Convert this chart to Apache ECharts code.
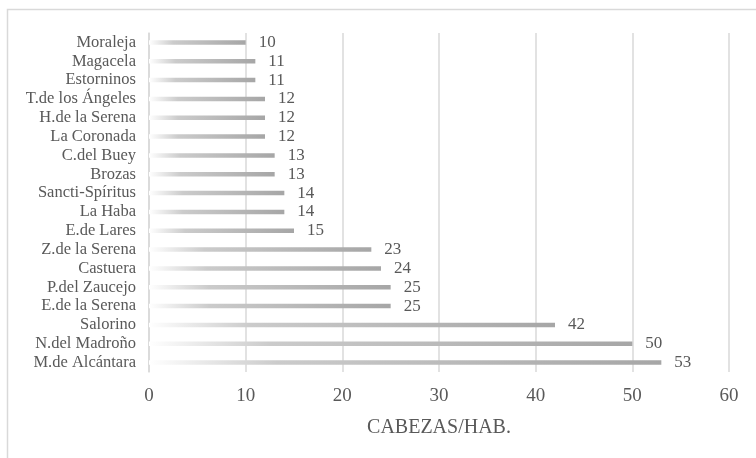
<!DOCTYPE html>
<html>
<head>
<meta charset="utf-8">
<script src="https://cdn.jsdelivr.net/npm/echarts@6/dist/echarts.min.js"></script>
<style>
  html, body { margin: 0; padding: 0; background: #fff; }
  #chart { width: 756px; height: 458px; }
</style>
</head>
<body>
<div id="chart"></div>
<script>
// Municipalities, listed top to bottom
const municipios = [
  'Moraleja', 'Magacela', 'Estorninos', 'T.de los Ángeles', 'H.de la Serena',
  'La Coronada', 'C.del Buey', 'Brozas', 'Sancti-Spíritus', 'La Haba',
  'E.de Lares', 'Z.de la Serena', 'Castuera', 'P.del Zaucejo', 'E.de la Serena',
  'Salorino', 'N.del Madroño', 'M.de Alcántara'
];
// Head of livestock per inhabitant
const cabezasHab = [10, 11, 11, 12, 12, 12, 13, 13, 14, 14, 15, 23, 24, 25, 25, 42, 50, 53];
const ejeTicks = [0, 10, 20, 30, 40, 50, 60];

const serif = '"Liberation Serif", "DejaVu Serif", serif';
const chart = echarts.init(document.getElementById('chart'));

chart.setOption({
  animation: false,
  graphic: [{
    type: 'rect',
    shape: { x: 7.5, y: 9.5, width: 800, height: 500 },
    style: { fill: 'none', stroke: '#d9d9d9', lineWidth: 1.5 },
    silent: true
  }],
  grid: { left: 149, right: 27, top: 33, bottom: 86, containLabel: false },
  xAxis: {
    type: 'value',
    min: ejeTicks[0],
    max: ejeTicks[ejeTicks.length - 1],
    interval: 10,
    name: 'CABEZAS/HAB.',
    nameLocation: 'middle',
    nameGap: 46,
    nameTextStyle: { fontFamily: serif, fontSize: 20, color: '#595959' },
    axisLine: { show: false },
    axisTick: { show: false },
    axisLabel: { fontFamily: serif, fontSize: 19, color: '#595959', margin: 15 },
    splitLine: { lineStyle: { color: '#d9d9d9', width: 1.5 } }
  },
  yAxis: {
    type: 'category',
    inverse: true,
    data: municipios,
    axisLine: { show: true, lineStyle: { color: '#d9d9d9', width: 1.5 } },
    axisTick: { show: false },
    axisLabel: { interval: 0, fontFamily: serif, fontSize: 16.5, color: '#595959', margin: 13 }
  },
  series: [{
    type: 'bar',
    data: cabezasHab,
    barWidth: 4.5,
    itemStyle: {
      color: new echarts.graphic.LinearGradient(0, 0, 1, 0, [
        { offset: 0, color: '#ffffff' },
        { offset: 0.25, color: '#cbcbcb' },
        { offset: 1, color: '#a6a6a6' }
      ])
    },
    label: {
      show: true,
      position: 'right',
      distance: 13,
      fontFamily: serif,
      fontSize: 17,
      color: '#595959'
    }
  }]
});
</script>
</body>
</html>
